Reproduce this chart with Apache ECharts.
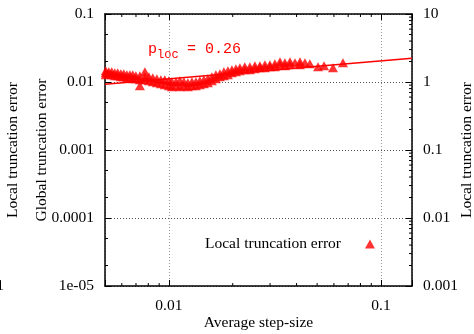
<!DOCTYPE html>
<html>
<head>
<meta charset="utf-8">
<script src="https://cdn.jsdelivr.net/npm/echarts@6/dist/echarts.min.js"></script>
<style>
html,body{margin:0;padding:0;background:#fff;}
#c{width:474px;height:334px;}
</style>
</head>
<body>
<div id="c"></div>
<script>
// ---- data ----
const stepSize = [
  0.00504,0.00504,0.00504, 0.00521,0.00521, 0.00538,0.00538, 0.00556,0.00556, 0.00574,0.00574,
  0.00594,0.00594, 0.00613,0.00613, 0.00634,0.00634, 0.00655,0.00655, 0.00676,0.00676,
  0.00699,0.00699, 0.00730,0.00730,0.00730, 0.00771,0.00771,0.00771, 0.00805,0.00805,
  0.00840,0.00840, 0.00878,0.00878, 0.00917,0.00917, 0.00957,0.00957, 0.0100,0.0100,
  0.01033,0.01033, 0.0108,0.0108, 0.01127,0.01127, 0.01177,0.01177, 0.01229,0.01229,
  0.01284,0.01284, 0.01341,0.01341, 0.0140,0.0140, 0.01462,0.01462, 0.01527,0.01527,
  0.01595,0.01595, 0.01666,0.01666, 0.0174,0.0174, 0.01817,0.01817, 0.01898,0.01898,
  0.01982,0.01982, 0.0207,0.0207, 0.02162,0.02162, 0.0228,0.0228, 0.0241,0.0241,
  0.02545,0.02545, 0.02686,0.02686, 0.02836,0.02836, 0.02995,0.02995, 0.03162,0.03162,
  0.0334,0.0334, 0.03525,0.03525, 0.03722,0.03722, 0.0393, 0.0415,0.0415, 0.0438,
  0.0462, 0.0505, 0.0539, 0.0594, 0.0662
];
const localError = [
  1.462,1.366,1.277, 1.413,1.321, 1.413,1.277, 1.366,1.235, 1.366,1.235,
  1.321,1.194, 1.321,1.194, 1.277,1.154, 1.277,1.154, 1.277,1.116,
  1.235,1.116, 1.235,1.079,0.881, 1.413,1.194,1.079, 1.194,1.043,
  1.154,1.0085, 1.116,0.975, 1.079,0.943, 1.079,0.911, 1.043,0.881,
  1.0085,0.852, 1.0085,0.881, 1.043,0.852, 1.0085,0.881, 0.975,0.852,
  1.0085,0.881, 1.0085,0.881, 1.043,0.911, 1.079,0.943, 1.116,0.975,
  1.194,1.043, 1.277,1.116, 1.321,1.194, 1.413,1.235, 1.462,1.277,
  1.512,1.366, 1.564,1.413, 1.617,1.462, 1.673,1.512, 1.673,1.512,
  1.730,1.564, 1.730,1.617, 1.789,1.617, 1.789,1.673, 1.851,1.673,
  1.98,1.789, 1.914,1.730, 1.98,1.789, 1.914, 1.98,1.789, 1.914,
  1.851, 1.673, 1.730, 1.617, 1.914
];
const fitX = [0.005, 0.14];
const fitY = [0.93, 2.23];
const xTickLabels = {'-2': '0.01', '-1': '0.1'};
const leftTickLabels = {'-1': '0.1', '-2': '0.01', '-3': '0.001', '-4': '0.0001', '-5': '1e-05'};
const rightTickLabels = {'1': '10', '0': '1', '-1': '0.1', '-2': '0.01', '-3': '0.001'};
const xDecades = [0.001, 0.01, 0.1];
const leftDecades = [0.00001, 0.0001, 0.001, 0.01];
const rightDecades = [0.001, 0.01, 0.1, 1];
const fullMinor = [2, 3, 4, 5, 6, 7, 8, 9];
const leftMinor = [2, 5];
const seriesName = 'Local truncation error';
const slopeText = '= 0.26';

// ---- chart ----
const FONT = '"Liberation Serif", "Times New Roman", serif';
const MONO = '"Liberation Mono", "Courier New", monospace';
const FS = 15.5;
function lab(map, v) {
  const e = Math.log10(v);
  const r = Math.round(e);
  if (Math.abs(e - r) > 1e-6) return '';
  return map[String(r)] || '';
}
function minorValues(decades, mults, lo, hi) {
  const out = [];
  decades.forEach(d => mults.forEach(m => {
    const v = +(d * m).toPrecision(6);
    if (v > lo * 1.0001 && v < hi * 0.9999) out.push([v]);
  }));
  return out;
}
const X0 = fitX[0], X1 = fitX[1];
const L0 = 1e-5, L1 = 0.1, R0 = 0.001, R1 = 10;
const MINLEN = 3;
function tickLine(p, dx, dy) {
  return {type: 'line', shape: {x1: p[0], y1: p[1], x2: p[0] + dx, y2: p[1] + dy},
          style: {stroke: '#000', lineWidth: 1}};
}
const chart = echarts.init(document.getElementById('c'), null, {renderer: 'canvas'});
const axisLine = {show: true, lineStyle: {color: '#000', width: 1.5}};
const tick = {show: true, inside: true, length: 6, lineStyle: {color: '#000', width: 1}};
const pts = stepSize.map((x, i) => [x, localError[i]]);
const nameStyle = {fontFamily: FONT, fontSize: FS, color: '#000'};
chart.setOption({
  animation: false,
  backgroundColor: '#fff',
  textStyle: {fontFamily: FONT},
  grid: {left: 105, right: 62, top: 14, bottom: 48, containLabel: false, outerBoundsMode: 'none'},
  legend: {
    left: 205, top: 236, padding: 0, align: 'right', icon: 'triangle',
    itemWidth: 10, itemHeight: 9,
    textStyle: {fontFamily: FONT, fontSize: FS, color: '#000', padding: [0, 19, 0, 0]},
    data: [seriesName]
  },
  xAxis: [
    {
      type: 'log', logBase: 10, min: X0, max: X1, position: 'bottom',
      name: 'Average step-size', nameLocation: 'middle', nameGap: 29, nameMoveOverlap: false,
      nameTextStyle: nameStyle,
      axisLine: axisLine, axisTick: tick, minorTick: {show: false},
      axisLabel: {fontFamily: FONT, fontSize: FS, color: '#000', margin: 12,
        formatter: v => lab(xTickLabels, v)},
      splitLine: {show: true, lineStyle: {color: '#999', type: [1, 2], width: 1}}
    },
    {
      type: 'log', logBase: 10, min: X0, max: X1, position: 'top',
      axisLine: axisLine, axisTick: tick, minorTick: {show: false},
      axisLabel: {show: false}, splitLine: {show: false}
    }
  ],
  yAxis: [
    {
      type: 'log', logBase: 10, min: L0, max: L1, position: 'left',
      name: 'Global truncation error', nameLocation: 'middle', nameGap: 55, nameMoveOverlap: false,
      nameTextStyle: nameStyle,
      axisLine: axisLine, axisTick: tick, minorTick: {show: false},
      axisLabel: {fontFamily: FONT, fontSize: FS, color: '#000', margin: 11,
        formatter: v => lab(leftTickLabels, v)},
      splitLine: {show: true, lineStyle: {color: '#555', type: [1, 2], width: 1}}
    },
    {
      type: 'log', logBase: 10, min: R0, max: R1, position: 'right',
      name: 'Local truncation error', nameLocation: 'middle', nameGap: 47, nameMoveOverlap: false,
      nameTextStyle: nameStyle,
      axisLine: axisLine, axisTick: tick, minorTick: {show: false},
      axisLabel: {fontFamily: FONT, fontSize: FS, color: '#000', margin: 11,
        formatter: v => lab(rightTickLabels, v)},
      splitLine: {show: false}
    },
    {
      type: 'log', logBase: 10, min: L0, max: L1, position: 'left', offset: 0,
      name: 'Local truncation error', nameLocation: 'middle', nameGap: 84, nameMoveOverlap: false,
      nameTextStyle: nameStyle,
      axisLine: {show: false}, axisTick: {show: false}, axisLabel: {show: false},
      splitLine: {show: false}
    }
  ],
  graphic: [
    {type: 'text', left: 148, top: 42, style: {text: 'p', font: '15px ' + MONO, fill: '#ff0000'}},
    {type: 'text', left: 157, top: 49, style: {text: 'loc', font: '12px ' + MONO, fill: '#ff0000'}},
    {type: 'text', left: 187, top: 42, style: {text: slopeText, font: '15px ' + MONO, fill: '#ff0000'}},
    {type: 'text', right: 470, top: 278, style: {text: '1', font: FS + 'px ' + FONT, fill: '#000', align: 'right'}}
  ],
  series: [
    {
      name: 'xminor', type: 'custom', xAxisIndex: 0, yAxisIndex: 0, silent: true, clip: false,
      data: minorValues(xDecades, fullMinor, X0, X1),
      renderItem: (params, api) => {
        const v = api.value(0);
        return {type: 'group', children: [
          tickLine(api.coord([v, L0]), 0, -MINLEN),
          tickLine(api.coord([v, L1]), 0, MINLEN)
        ]};
      }
    },
    {
      name: 'lminor', type: 'custom', xAxisIndex: 0, yAxisIndex: 0, silent: true, clip: false,
      data: minorValues(leftDecades, leftMinor, L0, L1).map(d => [X0, d[0]]),
      renderItem: (params, api) => tickLine(api.coord([X0, api.value(1)]), MINLEN, 0)
    },
    {
      name: 'rminor', type: 'custom', xAxisIndex: 0, yAxisIndex: 1, silent: true, clip: false,
      data: minorValues(rightDecades, fullMinor, R0, R1).map(d => [X1, d[0]]),
      renderItem: (params, api) => tickLine(api.coord([X1, api.value(1)]), -MINLEN, 0)
    },
    {
      name: seriesName, type: 'scatter', xAxisIndex: 0, yAxisIndex: 1,
      symbol: 'triangle', symbolSize: [10, 9],
      itemStyle: {color: '#ff0000'},
      data: pts, z: 3
    },
    {
      name: 'fit', type: 'line', xAxisIndex: 0, yAxisIndex: 1,
      showSymbol: false, symbol: 'none',
      lineStyle: {color: '#ff0000', width: 1.5},
      data: fitX.map((x, i) => [x, fitY[i]]), z: 4
    }
  ]
});
</script>
</body>
</html>
